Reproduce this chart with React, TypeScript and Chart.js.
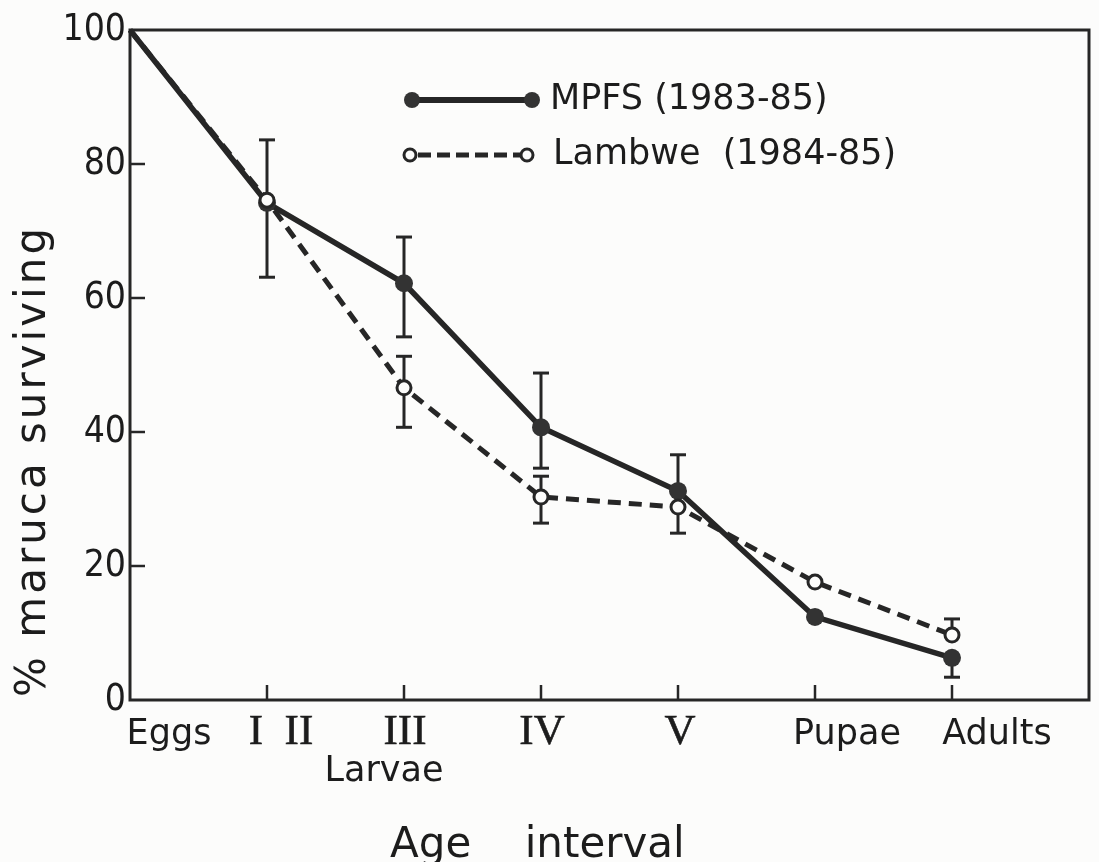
import { useEffect, useRef } from 'react';
import { Chart, registerables } from 'chart.js';

Chart.register(...registerables);

// Age intervals along the x axis (0 = eggs ... 6 = adults)
const stages = [0, 1, 2, 3, 4, 5, 6];
const stageLabels = ['Eggs', 'I  II', 'III', 'IV', 'V', 'Pupae', 'Adults'];

// % Maruca surviving, MPFS site (1983-85)
const mpfsSurvival = [100, 74.2, 62.2, 40.7, 31.2, 12.4, 6.3];
const mpfsErrLow = [null, 63.1, 54.2, 34.6, null, null, 3.4];
const mpfsErrHigh = [null, 83.6, 69.1, 48.8, 36.6, null, null];

// % Maruca surviving, Lambwe site (1984-85)
const lambweSurvival = [100, 74.6, 46.6, 30.3, 28.8, 17.6, 9.7];
const lambweErrLow = [null, null, 40.7, 26.4, 24.9, null, null];
const lambweErrHigh = [null, null, 51.3, 33.4, null, null, 12.1];

const legendMpfs = 'MPFS (1983-85)';
const legendLambwe = 'Lambwe  (1984-85)';
const xTitle = 'Age    interval';
const larvaeLabel = 'Larvae';
const yTitle = '% maruca surviving';

const INK = '#262626';
const TEXT = '#1c1c1c';
const SANS = "'DejaVu Sans', 'Noto Sans', sans-serif";
const ROMAN = "'Liberation Serif', 'DejaVu Serif', serif";

// horizontal nudges for the x labels, relative to their tick
const labelShift = [39, 14, 1, 1, 2, 32, 45];

type Num = number | null;

function drawErrorBars(chart: any, vals: number[], lo: Num[], hi: Num[]) {
  const { ctx } = chart;
  const xs = chart.scales.x;
  const ys = chart.scales.y;
  ctx.save();
  ctx.strokeStyle = INK;
  ctx.lineWidth = 3;
  ctx.lineCap = 'butt';
  for (let i = 0; i < stages.length; i++) {
    const l = lo[i];
    const h = hi[i];
    if (l == null && h == null) continue;
    const px = xs.getPixelForValue(stages[i]);
    const yTop = ys.getPixelForValue(h ?? vals[i]);
    const yBot = ys.getPixelForValue(l ?? vals[i]);
    ctx.beginPath();
    ctx.moveTo(px, yTop);
    ctx.lineTo(px, yBot);
    ctx.stroke();
    const cap = 8;
    if (h != null) {
      ctx.beginPath();
      ctx.moveTo(px - cap, yTop);
      ctx.lineTo(px + cap, yTop);
      ctx.stroke();
    }
    if (l != null) {
      ctx.beginPath();
      ctx.moveTo(px - cap, yBot);
      ctx.lineTo(px + cap, yBot);
      ctx.stroke();
    }
  }
  ctx.restore();
}

const decorPlugin = {
  id: 'survivalDecor',
  beforeDraw(chart: any) {
    const { ctx, width, height } = chart;
    ctx.save();
    ctx.fillStyle = '#fcfcfb';
    ctx.fillRect(0, 0, width, height);
    ctx.restore();
  },
  beforeDatasetsDraw(chart: any) {
    const { ctx, chartArea } = chart;
    const { left, top, right, bottom } = chartArea;
    const xs = chart.scales.x;
    const ys = chart.scales.y;

    // frame
    ctx.save();
    ctx.strokeStyle = INK;
    ctx.lineWidth = 3;
    ctx.strokeRect(left, top, right - left, bottom - top);

    // inward tick marks
    ctx.lineWidth = 2.5;
    ys.ticks.forEach((t: any) => {
      if (t.value <= 0 || t.value >= 100) return;
      const py = ys.getPixelForValue(t.value);
      ctx.beginPath();
      ctx.moveTo(left, py);
      ctx.lineTo(left + 15, py);
      ctx.stroke();
    });
    stages.forEach((s) => {
      if (s === 0) return;
      const px = xs.getPixelForValue(s);
      ctx.beginPath();
      ctx.moveTo(px, bottom);
      ctx.lineTo(px, bottom - 15);
      ctx.stroke();
    });
    ctx.restore();

    drawErrorBars(chart, mpfsSurvival, mpfsErrLow, mpfsErrHigh);
    drawErrorBars(chart, lambweSurvival, lambweErrLow, lambweErrHigh);
  },
  afterDraw(chart: any) {
    const { ctx } = chart;
    const xs = chart.scales.x;
    ctx.save();
    ctx.fillStyle = TEXT;

    // x category labels
    ctx.textBaseline = 'alphabetic';
    ctx.textAlign = 'center';
    stages.forEach((s, i) => {
      const label = stageLabels[i];
      const isRoman = /^[IV ]+$/.test(label);
      ctx.font = isRoman ? `43px ${ROMAN}` : `35px ${SANS}`;
      const px = xs.getPixelForValue(s) + labelShift[i];
      ctx.fillText(label, px, 744);
      if (isRoman) {
        ctx.lineWidth = 0.6;
        ctx.strokeStyle = TEXT;
        ctx.strokeText(label, px, 744);
      }
    });

    // "Larvae" under the larval instars
    ctx.font = `35px ${SANS}`;
    ctx.fillText(larvaeLabel, xs.getPixelForValue(2) - 20, 781);

    // x axis title
    ctx.textAlign = 'left';
    ctx.font = `42px ${SANS}`;
    ctx.fillText(xTitle, 390, 857);

    // y axis title
    ctx.save();
    ctx.translate(45, 697);
    ctx.rotate(-Math.PI / 2);
    ctx.font = `42px ${SANS}`;
    (ctx as any).letterSpacing = '3px';
    ctx.textAlign = 'left';
    ctx.fillText(yTitle, 0, 0);
    ctx.restore();

    // legend
    ctx.strokeStyle = INK;
    ctx.lineCap = 'butt';
    // MPFS row
    ctx.lineWidth = 6;
    ctx.beginPath();
    ctx.moveTo(412, 100);
    ctx.lineTo(532, 100);
    ctx.stroke();
    ctx.fillStyle = '#333';
    [412, 532].forEach((cx) => {
      ctx.beginPath();
      ctx.arc(cx, 100, 8, 0, Math.PI * 2);
      ctx.fill();
    });
    // Lambwe row
    ctx.lineWidth = 5;
    ctx.setLineDash([13, 6]);
    ctx.beginPath();
    ctx.moveTo(418, 155);
    ctx.lineTo(520, 155);
    ctx.stroke();
    ctx.setLineDash([]);
    ctx.lineWidth = 3;
    ctx.fillStyle = '#fcfcfb';
    [410, 527].forEach((cx) => {
      ctx.beginPath();
      ctx.arc(cx, 155, 6, 0, Math.PI * 2);
      ctx.fill();
      ctx.stroke();
    });

    ctx.fillStyle = TEXT;
    ctx.textAlign = 'left';
    ctx.textBaseline = 'middle';
    ctx.font = `35px ${SANS}`;
    ctx.fillText(legendMpfs, 550, 100);
    ctx.fillText(legendLambwe, 553, 155);
    ctx.restore();
  },
};

export default function App() {
  const canvasRef = useRef<HTMLCanvasElement | null>(null);

  useEffect(() => {
    document.body.style.margin = '0';
    const canvas = canvasRef.current;
    if (!canvas) return;

    const toPoints = (vals: number[]) => stages.map((s, i) => ({ x: s, y: vals[i] }));

    const chart = new Chart(canvas, {
      type: 'line',
      data: {
        datasets: [
          {
            label: legendMpfs,
            data: toPoints(mpfsSurvival),
            borderColor: INK,
            borderWidth: 5.5,
            pointRadius: stages.map((s) => (s === 0 ? 0 : 9)),
            pointBackgroundColor: '#333',
            pointBorderColor: '#333',
            pointBorderWidth: 0,
            tension: 0,
            order: 1,
            clip: false as any,
          },
          {
            label: legendLambwe,
            data: toPoints(lambweSurvival),
            borderColor: INK,
            borderWidth: 5,
            borderDash: [13, 8],
            pointRadius: stages.map((s) => (s === 0 ? 0 : 7)),
            pointBackgroundColor: '#fcfcfb',
            pointBorderColor: INK,
            pointBorderWidth: 3,
            tension: 0,
            order: 0,
            clip: false as any,
          },
        ],
      },
      options: {
        responsive: false,
        animation: false,
        layout: { padding: { left: 0, top: 30, right: 10, bottom: 0 } },
        plugins: {
          legend: { display: false },
          tooltip: { enabled: false },
        },
        scales: {
          x: {
            type: 'linear',
            min: 0,
            max: 7,
            ticks: { display: false },
            grid: { display: false },
            border: { display: false },
            afterFit: (scale: any) => {
              scale.height = 162;
            },
          },
          y: {
            type: 'linear',
            min: 0,
            max: 100,
            ticks: {
              stepSize: 20,
              color: TEXT,
              padding: 4,
              font: { family: "'DejaVu Sans Condensed', 'Liberation Sans', sans-serif", size: 37 },
            },
            grid: { drawOnChartArea: false, drawTicks: false, display: false },
            border: { display: false },
            afterFit: (scale: any) => {
              scale.width = 130;
            },
          },
        },
      },
      plugins: [decorPlugin],
    });

    return () => chart.destroy();
  }, []);

  return (
    <div style={{ position: 'absolute', left: 0, top: 0, width: 1099, height: 862 }}>
      <canvas ref={canvasRef} width={1099} height={862} />
    </div>
  );
}
